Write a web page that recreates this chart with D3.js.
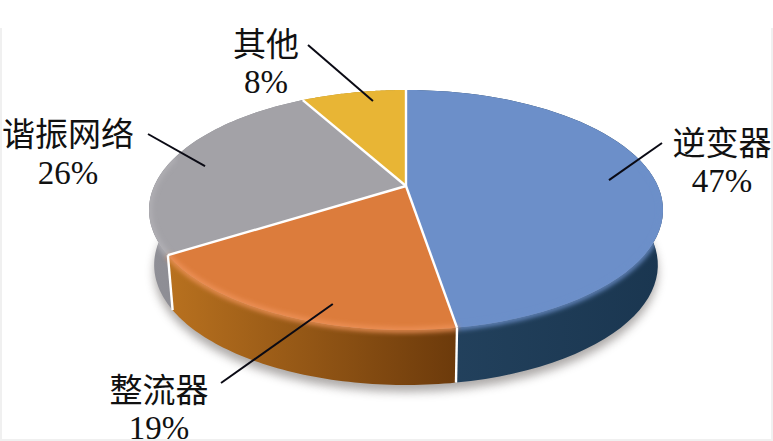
<!DOCTYPE html>
<html>
<head>
<meta charset="utf-8">
<script src="https://cdn.jsdelivr.net/npm/d3@7"></script>
<style>
html, body { margin: 0; padding: 0; background: #fff; overflow: hidden; }
text { font-family: "Liberation Serif", "Noto Sans CJK SC", serif; font-size: 33px; fill: #111; text-anchor: middle; }
</style>
</head>
<body>
<div class="canvas"></div>
<script>
//Data (printed labels are these values rounded)
const categories = ['逆变器', '整流器', '谐振网络', '其他'];
const percents = [47.4, 18.6, 26, 8];

//Colors per slice
const topColors = ['#6c8fc9', '#dc7c3c', '#a3a2a7', '#e8b535'];
const rimColors = ['#6c8fc9', '#ee9258', '#b2b1b6', '#e8b535'];
const sideLeft = ['#24435f', '#b8711f', '#8f8f96', '#b08a20'];
const sideRight = ['#1a3650', '#6c3a0b', '#85858c', '#b08a20'];

//Label layout: text centre, baselines, outer end of leader, inner end on the disc
const labelX = [722, 159, 68, 266];
const nameY = [155, 402, 146, 56];
const valueY = [192, 439, 184, 93];
const leaderOut = [[662, 143], [221, 383], [148, 134], [308, 45]];
const leaderIn = [[.24, .816], [.544, .884], [.784, .846], [.972, .88]];

//Canvas
const width = 773, height = 441;
const cx = 406, apexY = 186;
const halfW = 251.8, halfH = 115.2, tilt = .2, depth = 55, shrink = .98;
const frontFrom = 75 * Math.PI / 180, frontTo = 285 * Math.PI / 180;

const svg = d3.select('.canvas')
    .append('svg')
    .attr('width', width)
    .attr('height', height)
    .style('display', 'block');

const defs = svg.append('defs');
defs.append('filter').attr('id', 'soft').attr('x', '-10%').attr('y', '-10%').attr('width', '120%').attr('height', '120%')
    .append('feGaussianBlur').attr('stdDeviation', 2.6);
defs.append('filter').attr('id', 'shadow').attr('x', '-10%').attr('y', '-20%').attr('width', '120%').attr('height', '140%')
    .append('feGaussianBlur').attr('stdDeviation', 5);

//Faint scan frame of the source picture
svg.append('path')
    .attr('d', `M1,28V${height - 1}H${width - 1}V28`)
    .attr('fill', 'none')
    .attr('stroke', '#f0f0f0')
    .attr('stroke-width', 2);

//Disc to screen: perspective look at the round pie
const xScale = d3.scaleLinear().domain([-1, 1]).range([cx - halfW, cx + halfW]);
const yScale = d3.scaleLinear().domain([-1, 1]).range([apexY - halfH, apexY + halfH]);

const project = (angle, r = 1, drop = 0) => {
    const u = Math.sin(angle) * r,
        v = -Math.cos(angle) * r,
        w = 1 - tilt * v,
        k = drop ? shrink : 1;
    return [cx + (xScale(u / w) - cx) * k, yScale(v / w) + drop];
};

const rim = (a, b, drop = 0) => d3.range(0, 61).map(i => project(a + (b - a) * i / 60, 1, drop));
const line = d3.line();

const slices = d3.pie().sort(null).value(d => d)(percents);

//Shadow under the pie
svg.append('path')
    .attr('d', line(rim(0, 2 * Math.PI, depth + 7)) + 'Z')
    .attr('fill', '#8a8583')
    .attr('opacity', .7)
    .attr('filter', 'url(#shadow)');

//Pie outline, keeps the blurred rim inside
const clip = defs.append('clipPath').attr('id', 'pieClip');
clip.append('path').attr('d', line(rim(0, 2 * Math.PI)) + 'Z');
clip.append('path').attr('d', line(rim(0, 2 * Math.PI, depth)) + 'Z');
clip.append('path').attr('d', line([project(Math.PI * 1.5), project(Math.PI * 1.5, 1, depth), project(Math.PI / 2, 1, depth), project(Math.PI / 2)]) + 'Z');

//Side walls
slices.forEach((d, i) => {
    const grad = defs.append('linearGradient')
        .attr('id', 'side' + i)
        .attr('gradientUnits', 'userSpaceOnUse')
        .attr('x1', d3.min(rim(d.startAngle, d.endAngle), p => p[0]))
        .attr('x2', d3.max(rim(d.startAngle, d.endAngle), p => p[0]));
    grad.append('stop').attr('offset', 0).attr('stop-color', sideLeft[i]);
    grad.append('stop').attr('offset', 1).attr('stop-color', sideRight[i]);
});

const order = [3, 2, 0, 1];
svg.append('g').selectAll('path')
    .data(order)
    .join('path')
    .attr('d', i => {
        const d = slices[i];
        return line(rim(d.startAngle, d.endAngle).concat(rim(d.endAngle, d.startAngle, depth))) + 'Z';
    })
    .attr('fill', i => `url(#side${i})`);

//Top faces
svg.append('g').selectAll('path')
    .data(slices)
    .join('path')
    .attr('d', d => line([[cx, apexY]].concat(rim(d.startAngle, d.endAngle))) + 'Z')
    .attr('fill', (d, i) => topColors[i]);

//Soft rounded rim, front part only
svg.append('g')
    .attr('clip-path', 'url(#pieClip)')
    .selectAll('path')
    .data(slices.filter(d => d.startAngle < frontTo && d.endAngle > frontFrom))
    .join('path')
    .attr('d', d => line(rim(Math.max(d.startAngle, frontFrom), Math.min(d.endAngle, frontTo))))
    .attr('fill', 'none')
    .attr('stroke', d => rimColors[d.index])
    .attr('stroke-width', 5)
    .attr('filter', 'url(#soft)');

//White seams
const seams = svg.append('g')
    .attr('stroke', '#fff')
    .attr('stroke-width', 2.4)
    .attr('stroke-linejoin', 'round')
    .attr('fill', 'none');
slices.forEach(d => {
    seams.append('path').attr('d', line([[cx, apexY], project(d.startAngle)]));
});
[slices[0].endAngle, slices[1].endAngle].forEach(a => {
    seams.append('path').attr('d', line([project(a), project(a, 1, depth)]));
});

//Labels and leaders
const labels = svg.append('g');
categories.forEach((name, i) => {
    const inner = project(leaderIn[i][0] * 2 * Math.PI, leaderIn[i][1]);
    labels.append('path')
        .attr('d', line([inner, leaderOut[i]]))
        .attr('stroke', '#0a0a14')
        .attr('stroke-width', 2)
        .attr('fill', 'none');
    labels.append('text').attr('x', labelX[i]).attr('y', nameY[i]).text(name);
    labels.append('text').attr('x', labelX[i]).attr('y', valueY[i]).text(d3.format('.0f')(percents[i]) + '%');
});
</script>
</body>
</html>
